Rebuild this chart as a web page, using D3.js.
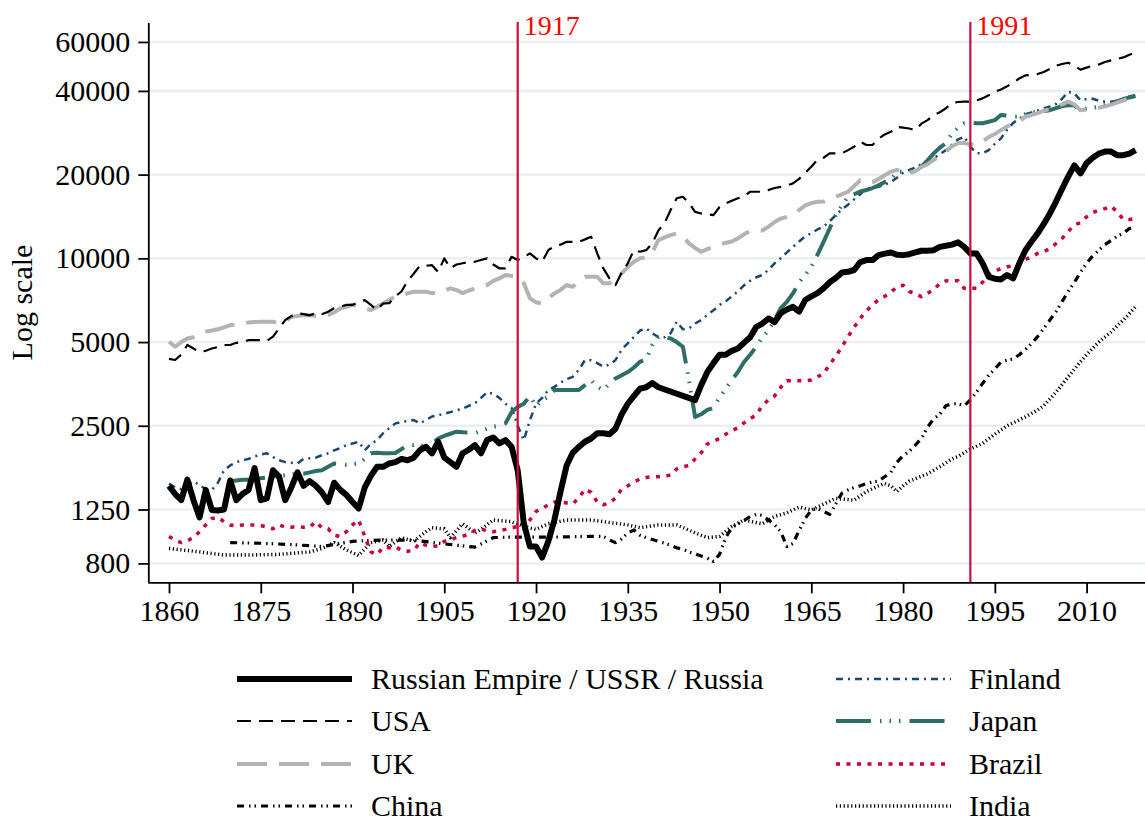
<!DOCTYPE html>
<html><head><meta charset="utf-8">
<script src="https://cdn.jsdelivr.net/npm/d3@7/dist/d3.min.js"></script>
<style>
body{margin:0;background:#fff}
text{font-family:"Liberation Serif","Times New Roman",serif}
</style>
</head><body>
<svg id="chart" width="1145" height="823"></svg>
<script>
// ---------------- data (GDP per capita, log scale) ----------------
const yTickValues = [800, 1250, 2500, 5000, 10000, 20000, 40000, 60000];
const xTickValues = [1860, 1875, 1890, 1905, 1920, 1935, 1950, 1965, 1980, 1995, 2010];
const eventYears = [1917, 1991];
const eventLabels = ["1917", "1991"];

const russia = [[1860,1520],[1861,1420],[1862,1350],[1863,1600],[1864,1350],[1865,1170],[1866,1470],[1867,1245],[1868,1240],[1869,1250],[1870,1590],[1871,1350],[1872,1420],[1873,1470],[1874,1760],[1875,1350],[1876,1370],[1877,1730],[1878,1640],[1879,1350],[1880,1500],[1881,1700],[1882,1520],[1883,1580],[1884,1520],[1885,1440],[1886,1330],[1887,1560],[1888,1470],[1889,1410],[1890,1330],[1891,1260],[1892,1500],[1893,1650],[1894,1780],[1895,1780],[1896,1830],[1897,1850],[1898,1900],[1899,1880],[1900,1920],[1901,2040],[1902,2100],[1903,1990],[1904,2190],[1905,1920],[1906,1850],[1907,1780],[1908,1990],[1909,2050],[1910,2130],[1911,1990],[1912,2220],[1913,2270],[1914,2160],[1915,2220],[1916,2100],[1917,1730],[1918,1115],[1919,920],[1920,920],[1921,840],[1922,960],[1923,1146],[1924,1450],[1925,1800],[1926,2000],[1927,2100],[1928,2190],[1929,2250],[1930,2350],[1931,2350],[1932,2330],[1933,2440],[1934,2750],[1935,3000],[1936,3200],[1937,3400],[1938,3440],[1939,3560],[1940,3440],[1946,3090],[1947,3500],[1948,3900],[1949,4200],[1950,4500],[1951,4500],[1952,4650],[1953,4740],[1954,4970],[1955,5200],[1956,5670],[1957,5830],[1958,6080],[1959,5900],[1960,6350],[1961,6550],[1962,6690],[1963,6430],[1964,7080],[1965,7300],[1966,7500],[1967,7800],[1968,8200],[1969,8500],[1970,8900],[1971,8950],[1972,9080],[1973,9700],[1974,9860],[1975,9860],[1976,10270],[1977,10400],[1978,10500],[1979,10300],[1980,10270],[1981,10350],[1982,10500],[1983,10650],[1984,10650],[1985,10700],[1986,11000],[1987,11100],[1988,11200],[1989,11420],[1990,11000],[1991,10420],[1992,10420],[1993,9600],[1994,8580],[1995,8450],[1996,8400],[1997,8710],[1998,8470],[1999,9600],[2000,10700],[2001,11500],[2002,12300],[2003,13300],[2004,14500],[2005,16000],[2006,17800],[2007,19700],[2008,21600],[2009,20200],[2010,22000],[2011,23000],[2012,23800],[2013,24200],[2014,24200],[2015,23500],[2016,23500],[2017,23800],[2018,24500]];

const usa = [[1860,4350],[1861,4310],[1862,4500],[1863,4880],[1864,4740],[1865,4600],[1866,4650],[1867,4740],[1868,4800],[1869,4880],[1870,4880],[1871,4970],[1872,5000],[1873,5080],[1874,5080],[1875,5080],[1876,5050],[1877,5230],[1878,5600],[1879,6000],[1880,6200],[1881,6350],[1882,6300],[1883,6240],[1884,6350],[1885,6300],[1886,6430],[1887,6620],[1888,6700],[1889,6800],[1890,6800],[1891,6950],[1892,7080],[1893,6800],[1894,6520],[1895,6880],[1896,6900],[1897,7300],[1898,7600],[1899,8300],[1900,8800],[1901,9400],[1902,9400],[1903,9450],[1904,8930],[1905,10000],[1906,9210],[1907,9500],[1908,9600],[1909,9700],[1910,9720],[1911,9860],[1912,10000],[1913,9500],[1914,9210],[1915,9210],[1916,10130],[1917,9860],[1918,10100],[1919,10420],[1920,10000],[1921,9720],[1922,10700],[1923,11070],[1924,11200],[1925,11470],[1926,11470],[1927,11470],[1928,11700],[1929,11960],[1930,10420],[1931,9200],[1932,8470],[1933,8020],[1934,8900],[1935,9600],[1936,10700],[1937,10560],[1938,10700],[1939,11320],[1940,12600],[1941,13370],[1942,14920],[1943,16440],[1944,16650],[1945,15800],[1946,14700],[1947,14500],[1948,14400],[1949,14300],[1950,15300],[1951,15770],[1952,16100],[1953,16440],[1954,16700],[1955,17360],[1956,17360],[1957,17360],[1958,17600],[1959,17900],[1960,18070],[1961,18300],[1962,18600],[1963,19300],[1964,20300],[1965,21350],[1966,22600],[1967,23000],[1968,23860],[1969,23860],[1970,23860],[1971,24500],[1972,25200],[1973,26250],[1974,25560],[1975,25560],[1976,26950],[1977,27900],[1978,28500],[1979,29700],[1980,29500],[1981,29300],[1982,28900],[1983,30500],[1984,31400],[1985,32750],[1986,33500],[1987,34660],[1988,36160],[1989,36500],[1990,36600],[1991,36600],[1992,37000],[1993,37600],[1994,38600],[1995,39700],[1996,40500],[1997,41550],[1998,42800],[1999,44350],[2000,45500],[2001,45600],[2002,46000],[2003,46800],[2004,48000],[2005,49300],[2006,50000],[2007,50500],[2008,49300],[2009,47700],[2010,48500],[2011,49300],[2012,49800],[2013,50800],[2014,51500],[2015,52100],[2016,52800],[2017,54000],[2018,55000]];

const uk = [[1860,5010],[1861,4810],[1862,5000],[1863,5150],[1864,5200],[1865,5350],[1866,5450],[1867,5500],[1868,5560],[1869,5650],[1870,5750],[1871,5780],[1872,5830],[1873,5880],[1874,5900],[1875,5920],[1876,5920],[1877,5920],[1878,5830],[1879,5950],[1880,6160],[1881,6200],[1882,6260],[1883,6240],[1884,6220],[1885,6240],[1886,6260],[1887,6400],[1888,6600],[1889,6700],[1890,6800],[1891,6700],[1892,6600],[1893,6520],[1894,6700],[1895,6880],[1896,7100],[1897,7280],[1898,7380],[1899,7480],[1900,7580],[1901,7580],[1902,7580],[1903,7500],[1904,7500],[1905,7650],[1906,7800],[1907,7690],[1908,7500],[1909,7650],[1910,7800],[1911,7900],[1912,8020],[1913,8300],[1914,8470],[1915,8710],[1916,8650],[1917,8580],[1918,8130],[1919,7180],[1920,6950],[1921,6880],[1922,7180],[1923,7480],[1924,7700],[1925,8020],[1926,7900],[1927,8300],[1928,8580],[1929,8580],[1930,8580],[1931,8130],[1932,8130],[1933,8400],[1934,8830],[1935,9300],[1936,9720],[1937,10000],[1938,10080],[1939,10500],[1940,11630],[1941,11900],[1942,12120],[1943,12300],[1944,12000],[1945,11320],[1946,10900],[1947,10560],[1948,10800],[1949,11000],[1950,11200],[1951,11380],[1952,11500],[1953,11800],[1954,12200],[1955,12560],[1956,12600],[1957,12600],[1958,13000],[1959,13500],[1960,13900],[1961,14100],[1962,14400],[1963,14920],[1964,15500],[1965,15800],[1966,15980],[1967,16000],[1968,16400],[1969,16650],[1970,17000],[1971,17360],[1972,18200],[1973,19100],[1974,18800],[1975,18800],[1976,19300],[1977,19900],[1978,20500],[1979,20800],[1980,20400],[1981,20200],[1982,20600],[1983,21300],[1984,21800],[1985,22600],[1986,23400],[1987,24200],[1988,25300],[1989,26000],[1990,26000],[1991,25700],[1992,25560],[1993,26300],[1994,27300],[1995,28000],[1996,28900],[1997,29800],[1998,30500],[1999,31200],[2000,32300],[2001,32800],[2002,33300],[2003,33900],[2004,34500],[2005,35100],[2006,35800],[2007,36600],[2008,35800],[2009,34100],[2010,34300],[2011,34600],[2012,34800],[2013,35200],[2014,35700],[2015,36300],[2016,37000],[2017,37600],[2018,38100]];

const china = [[1870,950],[1875,945],[1880,935],[1885,920],[1890,960],[1895,971],[1900,970],[1905,940],[1910,915],[1913,990],[1916,995],[1919,995],[1923,995],[1929,1000],[1931,1000],[1932,971],[1933,950],[1934,980],[1935,1030],[1936,1054],[1937,1010],[1938,990],[1939,975],[1940,960],[1941,945],[1942,930],[1943,910],[1944,900],[1945,880],[1946,865],[1947,850],[1948,835],[1949,813],[1950,862],[1951,990],[1952,1075],[1953,1110],[1954,1140],[1955,1180],[1956,1200],[1957,1190],[1958,1146],[1959,1100],[1960,1040],[1961,920],[1962,943],[1963,1050],[1964,1160],[1965,1245],[1966,1260],[1967,1230],[1968,1200],[1969,1310],[1970,1430],[1971,1470],[1972,1500],[1973,1520],[1974,1550],[1975,1570],[1976,1580],[1977,1640],[1978,1700],[1979,1850],[1980,1950],[1981,2020],[1982,2130],[1983,2250],[1984,2470],[1985,2650],[1986,2750],[1987,2950],[1988,3000],[1989,3000],[1990,2950],[1991,3100],[1992,3300],[1993,3550],[1994,3800],[1995,4000],[1996,4240],[1997,4300],[1998,4350],[1999,4500],[2000,4700],[2001,4950],[2002,5230],[2003,5600],[2004,6000],[2005,6430],[2006,7000],[2007,7600],[2008,8200],[2009,8900],[2010,9600],[2011,10200],[2012,10700],[2013,11200],[2014,11600],[2015,12000],[2016,12300],[2017,12800],[2018,13000]];

const finland = [[1860,1550],[1861,1500],[1862,1480],[1863,1530],[1864,1580],[1865,1530],[1866,1480],[1867,1470],[1868,1560],[1869,1730],[1870,1800],[1871,1850],[1872,1880],[1873,1900],[1874,1940],[1875,1970],[1876,1990],[1877,1930],[1878,1880],[1879,1850],[1880,1840],[1881,1830],[1882,1900],[1883,1910],[1884,1920],[1885,1960],[1886,1990],[1887,2040],[1888,2080],[1889,2130],[1890,2160],[1891,2190],[1892,2040],[1893,2150],[1894,2220],[1895,2350],[1896,2450],[1897,2550],[1898,2580],[1899,2600],[1900,2620],[1901,2550],[1902,2620],[1903,2700],[1904,2730],[1905,2760],[1906,2800],[1907,2840],[1908,2880],[1909,2950],[1910,3010],[1911,3150],[1912,3300],[1913,3260],[1914,3150],[1915,3000],[1916,2900],[1917,2500],[1918,2220],[1919,2620],[1920,3000],[1921,3150],[1922,3360],[1923,3450],[1924,3570],[1925,3680],[1926,3750],[1927,3970],[1928,4310],[1929,4300],[1930,4200],[1931,4080],[1932,4150],[1933,4310],[1934,4700],[1935,4950],[1936,5220],[1937,5500],[1938,5600],[1939,5380],[1940,5200],[1941,5200],[1942,5380],[1943,5920],[1944,5560],[1945,5600],[1946,5830],[1947,6000],[1948,6260],[1949,6500],[1950,6800],[1951,7000],[1952,7300],[1953,7600],[1954,8000],[1955,8300],[1956,8550],[1957,8710],[1958,9100],[1959,9600],[1960,10000],[1961,10500],[1962,11000],[1963,11500],[1964,12000],[1965,12300],[1966,12700],[1967,13000],[1968,13600],[1969,14300],[1970,15000],[1971,15600],[1972,16300],[1973,17000],[1974,17870],[1975,17900],[1976,18100],[1977,18400],[1978,18800],[1979,19500],[1980,20300],[1981,20800],[1982,21200],[1983,21800],[1984,22500],[1985,22900],[1986,23700],[1987,24500],[1988,25600],[1989,26800],[1990,27400],[1991,25200],[1992,23900],[1993,23850],[1994,24500],[1995,25800],[1996,27000],[1997,29000],[1998,30700],[1999,31800],[2000,33000],[2001,33500],[2002,34000],[2003,34600],[2004,35200],[2005,35900],[2006,37500],[2007,39700],[2008,39200],[2009,37000],[2010,37400],[2011,37500],[2012,36900],[2013,36600],[2014,36600],[2015,36900],[2016,37300],[2017,38200],[2018,38600]];

const japan = [[1870,1580],[1871,1590],[1872,1600],[1873,1600],[1874,1610],[1875,1620],[1876,1630],[1877,1640],[1878,1650],[1879,1660],[1880,1670],[1881,1680],[1882,1680],[1883,1700],[1884,1720],[1885,1730],[1886,1780],[1887,1830],[1888,1820],[1889,1810],[1890,1820],[1891,1830],[1892,1900],[1893,1990],[1894,2000],[1895,1990],[1896,1990],[1897,1995],[1898,2060],[1899,2130],[1900,2130],[1901,2160],[1902,2040],[1903,2150],[1904,2250],[1905,2300],[1906,2340],[1907,2380],[1908,2370],[1909,2360],[1910,2350],[1911,2400],[1912,2440],[1913,2480],[1914,2500],[1915,2550],[1916,2800],[1917,2920],[1918,3000],[1919,3200],[1920,2940],[1921,3100],[1922,3170],[1923,3360],[1924,3360],[1925,3360],[1926,3360],[1927,3360],[1928,3500],[1929,3650],[1930,3450],[1931,3360],[1932,3550],[1933,3700],[1934,3800],[1935,3900],[1936,4050],[1937,4250],[1938,4310],[1939,4880],[1940,5220],[1941,5200],[1942,5150],[1943,5000],[1944,4810],[1945,3650],[1946,2690],[1947,2750],[1948,2850],[1949,2900],[1950,3160],[1951,3400],[1952,3650],[1953,3900],[1954,4240],[1955,4500],[1956,4810],[1957,5200],[1958,5500],[1959,6000],[1960,6620],[1961,6980],[1962,7480],[1963,8200],[1964,8710],[1965,9330],[1966,10300],[1967,11470],[1968,12800],[1969,14300],[1970,15500],[1971,16650],[1972,17000],[1973,17400],[1974,17600],[1975,17900],[1976,18300],[1977,18800],[1978,19100],[1979,20500],[1980,20500],[1981,20500],[1982,21000],[1983,21350],[1984,22500],[1985,23850],[1986,25000],[1987,25900],[1988,28150],[1989,29500],[1990,30600],[1991,30800],[1992,30600],[1993,30600],[1994,31000],[1995,31400],[1996,32750],[1997,32600],[1998,32300],[1999,32300],[2000,33000],[2001,33500],[2002,33600],[2003,33900],[2004,34100],[2005,34700],[2006,35300],[2007,35500],[2008,35500],[2009,34100],[2010,34600],[2011,34800],[2012,35100],[2013,35600],[2014,36150],[2015,36700],[2016,37400],[2017,37900],[2018,38300]];

const brazil = [[1860,1000],[1861,970],[1862,950],[1863,965],[1864,990],[1865,1040],[1866,1100],[1867,1160],[1868,1170],[1869,1130],[1870,1100],[1871,1090],[1872,1100],[1873,1100],[1874,1100],[1875,1095],[1876,1080],[1877,1065],[1878,1100],[1879,1080],[1880,1080],[1881,1085],[1882,1080],[1883,1080],[1884,1130],[1885,1075],[1886,1065],[1887,1010],[1888,1000],[1889,1040],[1890,1100],[1891,1146],[1892,1000],[1893,880],[1894,860],[1895,915],[1896,910],[1897,920],[1898,890],[1899,885],[1900,890],[1901,950],[1902,930],[1903,920],[1904,925],[1905,960],[1906,975],[1907,990],[1908,1000],[1909,1020],[1910,1050],[1911,1065],[1912,1045],[1913,1040],[1914,1050],[1915,1060],[1916,1075],[1917,1085],[1918,1065],[1919,1146],[1920,1230],[1921,1260],[1922,1300],[1923,1330],[1924,1330],[1925,1320],[1926,1310],[1927,1375],[1928,1480],[1929,1440],[1930,1330],[1931,1300],[1932,1320],[1933,1375],[1934,1480],[1935,1520],[1936,1570],[1937,1610],[1938,1630],[1939,1640],[1940,1640],[1941,1650],[1942,1660],[1943,1750],[1944,1780],[1945,1800],[1946,1900],[1947,2000],[1948,2150],[1949,2200],[1950,2250],[1951,2330],[1952,2400],[1953,2460],[1954,2560],[1955,2650],[1956,2740],[1957,2950],[1958,3100],[1959,3200],[1960,3440],[1961,3630],[1962,3630],[1963,3630],[1964,3630],[1965,3650],[1966,3750],[1967,3850],[1968,4150],[1969,4450],[1970,4800],[1971,5230],[1972,5650],[1973,6080],[1974,6470],[1975,6800],[1976,7100],[1977,7300],[1978,7550],[1979,7900],[1980,8000],[1981,7600],[1982,7480],[1983,7280],[1984,7500],[1985,7690],[1986,8130],[1987,8300],[1988,8300],[1989,8300],[1990,7800],[1991,7800],[1992,7800],[1993,8200],[1994,8700],[1995,8950],[1996,9210],[1997,9330],[1998,9400],[1999,9500],[2000,9900],[2001,10130],[2002,10420],[2003,10550],[2004,10860],[2005,11300],[2006,11800],[2007,12500],[2008,13200],[2009,13420],[2010,14100],[2011,14600],[2012,14900],[2013,15100],[2014,15400],[2015,14700],[2016,13800],[2017,13800],[2018,13900]];

const india = [[1860,905],[1865,880],[1869,857],[1873,857],[1878,862],[1883,880],[1885,905],[1887,950],[1889,894],[1891,855],[1893,950],[1895,971],[1896,920],[1898,990],[1900,960],[1902,1040],[1903,1075],[1905,1065],[1906,990],[1908,1110],[1910,1030],[1911,1060],[1913,1146],[1916,1130],[1918,1085],[1920,1060],[1922,1110],[1925,1146],[1929,1146],[1931,1130],[1935,1100],[1937,1075],[1940,1100],[1943,1100],[1946,1030],[1948,990],[1950,1000],[1952,1085],[1954,1146],[1957,1110],[1959,1180],[1961,1215],[1963,1275],[1965,1245],[1966,1275],[1969,1370],[1972,1350],[1974,1450],[1976,1520],[1977,1550],[1978,1520],[1979,1450],[1980,1520],[1981,1580],[1984,1680],[1986,1780],[1988,1900],[1989,1940],[1991,2060],[1993,2160],[1995,2330],[1997,2500],[2000,2690],[2002,2850],[2003,2950],[2005,3300],[2007,3750],[2009,4250],[2010,4500],[2012,5000],[2014,5440],[2016,6000],[2018,6690]];

const seriesNames = ["Russian Empire / USSR / Russia","USA","UK","China","Finland","Japan","Brazil","India"];
const seriesData = [russia, usa, uk, china, finland, japan, brazil, india];

(function () {
// ---------------- styles ----------------
const styles = [
  {color:"#000000", width:6,   dash:null},
  {color:"#000000", width:2.2, dash:"14,8"},
  {color:"#b3b3b3", width:4,   dash:"30,12"},
  {color:"#000000", width:3.2, dash:"7,5,1.5,4,1.5,5"},
  {color:"#1a476f", width:2.5, dash:"7,5,2,5"},
  {color:"#2e6e66", width:4,   dash:"35,9,1.5,8,1.5,8,1.5,9"},
  {color:"#c8003c", width:3.5, dash:"4,6.5"},
  {color:"#000000", width:3.5, dash:"1.2,2.6"}
];
const drawOrder = [7,3,6,4,5,2,1,0];

const svg = d3.select("#chart");
const W = 1145;
const plotLeft = 149.3, plotBottom = 582.3, plotTop = 20;

const x = d3.scaleLinear().domain([1860, 2010]).range([169, 1086.6]);
const y = d3.scaleLog().domain([684, 71960]).range([plotBottom, plotTop]);
const fontFam = '"Liberation Serif","Times New Roman",serif';

// gridlines
svg.append("g").selectAll("line").data(yTickValues).join("line")
  .attr("x1", plotLeft + 1).attr("x2", W)
  .attr("y1", d => y(d)).attr("y2", d => y(d))
  .attr("stroke", "#e9f0f2").attr("stroke-width", 2.5);

// y axis
const yAxis = d3.axisLeft(y).tickValues(yTickValues).tickFormat(d3.format("d")).tickSize(11).tickPadding(8);
const gy = svg.append("g").attr("transform", `translate(${plotLeft},0)`).call(yAxis);
gy.select(".domain").attr("d", `M-0.5,23V${plotBottom}`).attr("stroke", "#000").attr("stroke-width", 1.8);
gy.selectAll(".tick line").attr("stroke", "#000").attr("stroke-width", 1.8);
gy.selectAll(".tick text").attr("font-size", 30).attr("fill", "#000").attr("font-family", fontFam);

// x axis
const xAxis = d3.axisBottom(x).tickValues(xTickValues).tickFormat(d3.format("d")).tickSize(11).tickPadding(6);
const gx = svg.append("g").attr("transform", `translate(0,${plotBottom})`).call(xAxis);
gx.select(".domain").attr("d", `M${plotLeft - 1},0.5H${W}`).attr("stroke", "#000").attr("stroke-width", 1.8);
gx.selectAll(".tick line").attr("stroke", "#000").attr("stroke-width", 1.8);
gx.selectAll(".tick text").attr("font-size", 30).attr("fill", "#000").attr("font-family", fontFam);

// axis title
svg.append("text").attr("transform", `translate(32,${(245 + 360) / 2}) rotate(-90)`)
  .attr("text-anchor", "middle").attr("font-size", 30).text("Log scale");

// clip
svg.append("clipPath").attr("id", "plotclip").append("rect")
  .attr("x", plotLeft + 1).attr("y", plotTop).attr("width", W - plotLeft).attr("height", plotBottom - plotTop);

// series
const line = d3.line().x(d => x(d[0])).y(d => y(d[1]));
const gs = svg.append("g").attr("clip-path", "url(#plotclip)");
drawOrder.forEach(i => {
  const s = styles[i];
  gs.append("path").datum(seriesData[i])
    .attr("d", line).attr("fill", "none")
    .attr("stroke", s.color).attr("stroke-width", s.width)
    .attr("stroke-dasharray", s.dash)
    .attr("stroke-linejoin", "round");
});

// event lines
eventYears.forEach((yr, k) => {
  svg.append("line").attr("x1", x(yr)).attr("x2", x(yr))
    .attr("y1", 22).attr("y2", plotBottom)
    .attr("stroke", "#cf0a3c").attr("stroke-width", 2.2);
  svg.append("text").attr("x", x(yr) + 6).attr("y", 35)
    .attr("font-size", 28).attr("fill", "#ff0000").text(eventLabels[k]);
});

// legend
const legendCols = [{x1:237, x2:352, tx:371}, {x1:836, x2:951, tx:969}];
const legendRows = [679, 721, 764, 806];
seriesNames.forEach((name, i) => {
  const c = legendCols[Math.floor(i / 4)], r = legendRows[i % 4], s = styles[i];
  svg.append("line").attr("x1", c.x1).attr("x2", c.x2).attr("y1", r).attr("y2", r)
    .attr("stroke", s.color).attr("stroke-width", s.width).attr("stroke-dasharray", s.dash);
  svg.append("text").attr("x", c.tx).attr("y", r).attr("dy", "0.33em")
    .attr("font-size", 30).attr("fill", "#000").text(name);
});
})();
</script>
</body></html>
